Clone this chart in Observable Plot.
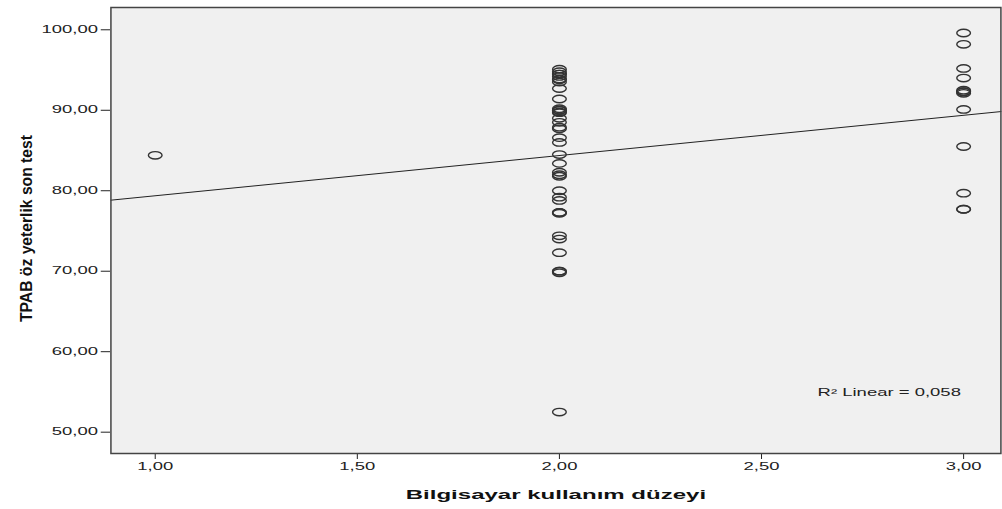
<!DOCTYPE html>
<html>
<head>
<meta charset="utf-8">
<script src="https://cdn.jsdelivr.net/npm/d3@7"></script>
<script src="https://cdn.jsdelivr.net/npm/@observablehq/plot@0.6"></script>
<style>
  html, body { margin: 0; padding: 0; background: #fff; }
  #chart svg { display: block; }
  #chart svg path, #chart svg line, #chart svg rect, #chart svg circle { vector-effect: non-scaling-stroke; }
  #chart [aria-label="x-axis label"] { font-weight: bold; font-size: 13px; fill: #111; }
</style>
</head>
<body>
<div id="chart"></div>
<script>
// ---- data ----
const xTitle = "Bilgisayar kullanım düzeyi";
const yTitle = "TPAB öz yeterlik son test";
const r2Label = "R² Linear = 0,058";
const xTicks = [1, 1.5, 2, 2.5, 3];
const yTicks = [50, 60, 70, 80, 90, 100];
const level1Scores = [84.4];
const level2Scores = [95.1, 94.8, 94.5, 94.5, 94.2, 93.9, 93.8, 93.5, 92.7, 91.4, 90.2, 90.0, 90.0, 89.8, 89.7,
  89.0, 88.5, 87.9, 87.7, 86.6, 86.0, 84.5, 83.4, 82.3, 82.0, 81.8, 80.0, 79.2, 78.8, 77.3, 77.3,
  77.2, 74.4, 74.0, 72.3, 70.0, 70.0, 69.8, 52.5];
const level3Scores = [99.6, 98.2, 95.2, 94.0, 92.5, 92.3, 92.3, 92.1, 90.1, 85.5, 79.7, 77.7, 77.7];
const xDomain = [0.8904, 3.0923];
const yDomain = [47.35, 102.77];

// ---- build table ----
const points = [
  ...level1Scores.map(v => ({x: 1, y: v})),
  ...level2Scores.map(v => ({x: 2, y: v})),
  ...level3Scores.map(v => ({x: 3, y: v}))
];
// least-squares fit across the full x range
const mx = d3.mean(points, d => d.x), my = d3.mean(points, d => d.y);
const sxy = d3.sum(points, d => (d.x - mx) * (d.y - my));
const sxx = d3.sum(points, d => (d.x - mx) ** 2);
const slope = sxy / sxx, intercept = my - slope * mx;
const fit = xDomain.map(x => ({x, y: intercept + slope * x}));

const fmt = d => d.toFixed(2).replace(".", ",");

const W = 542, H = 509, OUTW = 1002;
const s = OUTW / W;

const svg = Plot.plot({
  width: W,
  height: H,
  marginLeft: 110 / s,
  marginRight: W - 1000 / s,
  marginTop: 7,
  marginBottom: 56,
  style: {fontFamily: "'Liberation Sans', Arial, sans-serif", fontSize: "10px", color: "#222", background: "#fff", overflow: "visible"},
  x: {domain: xDomain, ticks: xTicks, tickFormat: fmt, tickSize: 6, tickPadding: 3,
      label: xTitle, labelAnchor: "center", labelArrow: "none", labelOffset: 45},
  y: {domain: yDomain, ticks: yTicks, tickFormat: fmt, tickSize: 5, tickPadding: 2, label: null},
  marks: [
    Plot.frame({fill: "#f0f0f0"}),
    Plot.line(fit, {x: "x", y: "y", stroke: "#222", strokeWidth: 1}),
    Plot.dot(points, {x: "x", y: "y", r: 3.7, stroke: "#333", strokeWidth: 1.4, fill: "none"}),
    Plot.text([r2Label], {text: d => d, frameAnchor: "bottom-right", textAnchor: "end", lineAnchor: "middle",
      dx: -40 / s, dy: -61, fill: "#222", fontSize: 10}),
    Plot.frame({stroke: "#444", strokeWidth: 1.5})
  ]
});

svg.setAttribute("width", OUTW);
svg.setAttribute("height", H);
svg.setAttribute("preserveAspectRatio", "none");
svg.style.width = OUTW + "px";
svg.style.height = H + "px";
svg.style.maxWidth = "none";

// y-axis title: unstretched, rotated, condensed
const ns = "http://www.w3.org/2000/svg";
const g = document.createElementNS(ns, "g");
g.setAttribute("aria-label", "y-axis label");
const t = document.createElementNS(ns, "text");
t.setAttribute("transform", `translate(${32 / s},${228.5}) scale(${1 / s},1) rotate(-90)`);
t.setAttribute("text-anchor", "middle");
t.setAttribute("font-weight", "bold");
t.setAttribute("font-size", "17");
t.setAttribute("textLength", "187");
t.setAttribute("lengthAdjust", "spacingAndGlyphs");
t.setAttribute("fill", "#111");
t.textContent = yTitle;
g.appendChild(t);
svg.appendChild(g);

document.getElementById("chart").appendChild(svg);
</script>
</body>
</html>
